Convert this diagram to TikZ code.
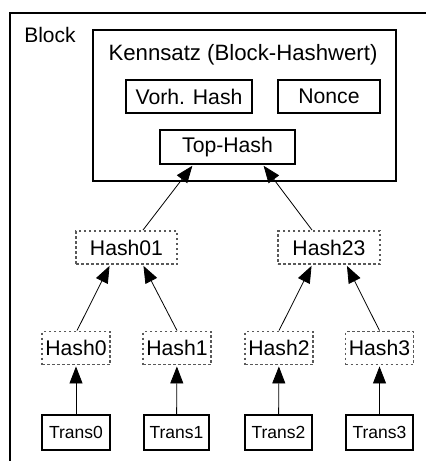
\documentclass[tikz,border=0pt]{standalone}
\usepackage{fontspec}
\setmainfont{Liberation Sans}
\usetikzlibrary{arrows.meta}
\begin{document}
\begin{tikzpicture}[x=1pt,y=-1pt,
  box/.style={draw, line width=1.9pt, rectangle, inner sep=0pt, font=\fontsize{21.2}{24}\selectfont},
  hbox/.style={draw=black!65, line width=1.9pt, dash pattern=on 2.5pt off 2.5pt, rectangle, inner sep=0pt, minimum height=33pt, font=\fontsize{21.2}{24}\selectfont},
  tbox/.style={draw, line width=1.9pt, rectangle, inner sep=0pt, minimum height=35pt, font=\fontsize{17.5}{20}\selectfont},
  arr/.style={-{Triangle[length=17pt,width=13pt]}, line width=0.8pt, shorten >=1pt}]
\useasboundingbox (0,0) rectangle (426,461);
\draw[line width=1.5pt] (10,480) -- (10,13) -- (440,13);
\node[font=\fontsize{21}{24}\selectfont] (blocklbl) at (50,35) {Block};
\node[box, minimum width=303pt, minimum height=151pt] (kenn) at (244.5,105.5) {};
\node[font=\fontsize{22.2}{24}\selectfont] (kenntitle) at (243,55) {Kennsatz (Block-Hashwert)};
\node[box, minimum width=126pt, minimum height=33pt] (vorh) at (189,96.5) {Vorh. Hash};
\node[box, minimum width=102pt, minimum height=33pt] (nonce) at (329,96.5) {Nonce};
\node[box, minimum width=135pt, minimum height=34pt] (top) at (227.5,147) {Top-Hash};
\node[hbox, minimum width=101pt] (h01) at (126.5,247.5) {Hash01};
\node[hbox, minimum width=102pt] (h23) at (329,247.5) {Hash23};
\node[hbox, minimum width=68pt] (h0) at (76,348) {Hash0};
\node[hbox, minimum width=68pt] (h1) at (177,348) {Hash1};
\node[hbox, minimum width=68pt] (h2) at (279,348) {Hash2};
\node[hbox, minimum width=68pt] (h3) at (379.5,348) {Hash3};
\node[tbox, minimum width=68pt] (t0) at (76,432.5) {Trans0};
\node[tbox, minimum width=65pt] (t1) at (176.5,432.5) {Trans1};
\node[tbox, minimum width=67pt] (t2) at (278.5,432.5) {Trans2};
\node[tbox, minimum width=67pt] (t3) at (379.5,432.5) {Trans3};
\draw[arr] (t0) -- (h0);
\draw[arr] (t1) -- (h1);
\draw[arr] (t2) -- (h2);
\draw[arr] (t3) -- (h3);
\draw[arr] ([xshift=1pt]h0.north) -- ([xshift=-16.5pt]h01.south);
\draw[arr] (h1.north) -- ([xshift=16.5pt]h01.south);
\draw[arr] (h2.north) -- ([xshift=-17pt]h23.south);
\draw[arr] (h3.north) -- ([xshift=17.5pt]h23.south);
\draw[arr] ([xshift=16.5pt]h01.north) -- ([xshift=-34.5pt]top.south);
\draw[arr] ([xshift=-17pt]h23.north) -- ([xshift=35.5pt]top.south);
\end{tikzpicture}
\end{document}
